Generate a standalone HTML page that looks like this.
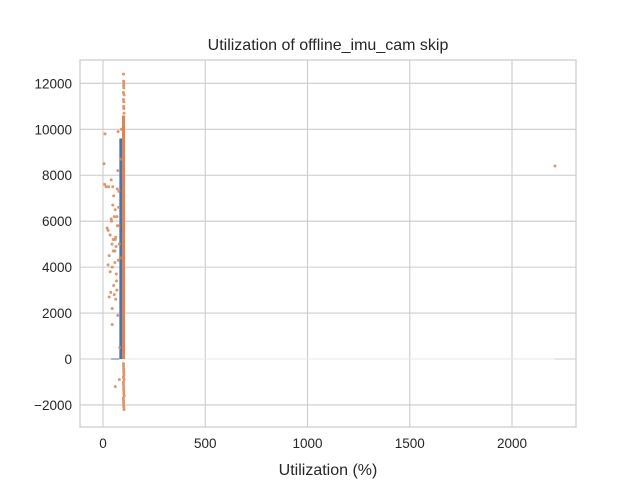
<!DOCTYPE html>
<html><head><meta charset="utf-8"><style>
body{margin:0;background:#fff;}
svg text{font-family:"Liberation Sans","DejaVu Sans",sans-serif;fill:#262626;}
</style></head><body>
<svg id="chart" width="640" height="480" viewBox="0 0 640 480" xmlns="http://www.w3.org/2000/svg">
<rect x="0" y="0" width="640" height="480" fill="#fff"/>
<g id="grid"></g>
<g id="marks"></g>
<rect x="80" y="60" width="496" height="367" fill="none" stroke="#cccccc" stroke-width="1.25"/>
<text x="328" y="50" text-anchor="middle" font-size="16">Utilization of offline_imu_cam skip</text>
<text x="328" y="475" text-anchor="middle" font-size="16">Utilization (%)</text>
<g id="ticks"></g>
</svg>
<script>
const xTicks=[0,500,1000,1500,2000];
const yTicks=[-2000,0,2000,4000,6000,8000,10000,12000];
const yTickLabels=["\u22122000","0","2000","4000","6000","8000","10000","12000"];
const barUtil=[80,93];
const barValue=[9600];
const denseUtil=[93,108];
const denseRange=[0,10600];
const scatterUtil=[5,8,10,15,20,25,28,30,35,38,40,42,45,48,50,52,55,58,60,62,64,66,68,70,72,74,76,78,80,85,88,90,
 30,40,50,60,70,45,55,65,75,35,48,58,68,78,25,44,52,62,72,82,
 100,101,102,103,100,101,102,103,100,101,102,103,100,101,102,100,101,102,103,100,
 100,101,102,100,101,102,103,100,101,102,100,101,102,2210,60,80,45];
const scatterValue=[8500,7600,9800,7500,5700,5600,7500,2700,3800,2900,7800,6000,4000,7500,5200,7100,6200,4700,6500,5300,4900,3400,3000,7400,8200,9900,6600,5800,5000,4400,8700,10000,
 4500,6100,4700,5200,5800,2200,2800,3700,4300,5400,6700,4200,6200,7300,4100,5000,3200,2600,1900,500,
 12400,12100,11800,11500,11300,11000,10900,10700,-300,-500,-700,-900,-1100,-1300,-1500,-1700,-1900,-2100,-2200,-1000,
 -200,-400,-600,-800,-1200,-1400,-1600,-1800,-2000,11200,11600,11900,12000,8400,-1200,-900,1500];
const X=u=>103+u*0.2045;
const Y=v=>359-v*0.02297;
const NS="http://www.w3.org/2000/svg";
function mk(tag,attrs,parent){const e=document.createElementNS(NS,tag);for(const k in attrs)e.setAttribute(k,attrs[k]);parent.appendChild(e);return e;}
const grid=document.getElementById('grid'),ticks=document.getElementById('ticks'),marks=document.getElementById('marks');
xTicks.forEach((t,i)=>{
 const l=mk('line',{x1:X(t),x2:X(t),y1:60,y2:427,stroke:'#cccccc','stroke-width':1.1},grid);
 
 
 const tx=mk('text',{x:X(t),y:448,'text-anchor':'middle','font-size':13.5},ticks);
 tx.textContent=String(t);
 
 
});
yTicks.forEach((t,i)=>{
 const l=mk('line',{x1:80,x2:576,y1:Y(t),y2:Y(t),stroke:'#cccccc','stroke-width':1.1},grid);
 
 
 const tx=mk('text',{x:72,y:Y(t)+5,'text-anchor':'end','font-size':13.5},ticks);
 tx.textContent=yTickLabels[i];
 
 
});
const bl=mk('line',{x1:X(barUtil[0]),x2:X(2210),y1:Y(0),y2:Y(0),stroke:'#e8e8ee','stroke-width':1},marks);


const bl2=mk('line',{x1:X(40),x2:X(barUtil[0]),y1:Y(0),y2:Y(0),stroke:'#4c72b0','stroke-width':1},marks);


const bar=mk('rect',{x:X(barUtil[0]),y:Y(barValue[0]),width:X(barUtil[1])-X(barUtil[0]),height:Y(0)-Y(barValue[0]),fill:'#4c72b0'},marks);


const dense=mk('rect',{x:X(denseUtil[0]),y:Y(denseRange[1]),width:X(denseUtil[1])-X(denseUtil[0]),height:Y(denseRange[0])-Y(denseRange[1]),fill:'#dd8452'},marks);


scatterUtil.forEach((u,i)=>{
 const c=mk('circle',{cx:X(u),cy:Y(scatterValue[i]),r:1.5,fill:'#dd8452','fill-opacity':0.85},marks);
 
 
});
</script>
</body></html>
